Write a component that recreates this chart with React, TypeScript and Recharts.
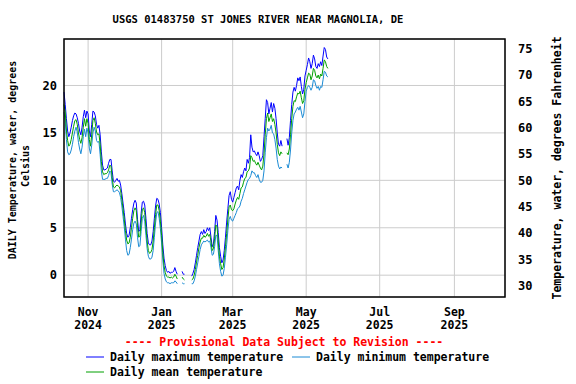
import { ComposedChart, Line, XAxis, YAxis, CartesianGrid } from 'recharts';

// Daily water temperature, deg C, from 2024-10-12 (day -20 relative to Nov 1 2024)
const START_DAY = -20;

// prettier-ignore
const maxT: (number | null)[] = [
  // Oct 12-31
  19.3, 18.0, 16.5, 15.2, 14.6, 15.0, 15.6, 16.3, 16.8, 17.1, 17.0, 16.6, 16.0, 15.2, 14.8, 15.6, 16.7, 17.4, 16.6, 17.3,
  // Nov
  17.0, 15.2, 14.6, 15.9, 17.3, 17.2, 16.8, 15.9, 15.5, 15.8, 14.8, 13.0, 11.6, 11.1, 11.1, 11.2, 11.3, 11.8, 12.2, 12.2,
  11.0, 9.9, 9.8, 10.0, 10.2, 9.9, 10.0, 9.5, 8.6, 7.6,
  // Dec
  6.6, 5.4, 4.4, 4.0, 4.2, 5.0, 6.0, 6.9, 7.6, 7.9, 7.6, 5.9, 4.6, 4.8, 6.5, 7.7, 7.8, 7.4, 6.0, 4.4,
  3.4, 3.2, 3.2, 3.6, 4.6, 6.0, 7.3, 8.1, 8.0, 7.5, 6.6,
  // Jan
  5.0, 3.2, 1.8, 1.0, 0.5, 0.3, 0.4, 0.2, 0.3, 0.3, 0.4, 0.8, 0.4, 0.1, null, null, null, 0.4, 0.1, 0.1,
  null, null, null, null, null, -0.1, 0.2, 0.6, 1.3, 2.1, 2.9,
  // Feb
  3.6, 4.3, 4.6, 4.3, 4.8, 4.4, 4.6, 5.0, 4.7, 5.0, 4.0, 3.0, 3.3, 4.6, 6.3, 5.8, 4.5, 2.9, 2.0, 1.3,
  1.6, 2.6, 4.0, 5.6, 7.0, 8.4, 8.8, 8.0,
  // Mar
  7.7, 8.2, 8.7, 9.2, 9.4, 9.0, 10.0, 10.6, 10.3, 10.9, 11.3, 11.0, 12.2, 11.8, 12.4, 14.8, 13.5, 13.0, 13.1, 12.8,
  12.6, 13.0, 12.6, 12.0, 12.2, 12.6, 14.6, 16.5, 18.5, 18.2, 17.0,
  // Apr
  17.6, 18.2, 17.2, 18.1, 17.6, 16.5, 15.0, 13.8, 13.6, 14.2, 13.6, null, null, null, 14.4, 13.7, 14.5, 16.3, 18.0, 19.3,
  19.8, 19.4, 20.0, 20.8, 20.5, 20.9, 19.9, 19.1, 19.6, 21.0,
  // May 1-19
  21.6, 22.2, 22.9, 22.5, 21.8, 22.3, 23.2, 22.8, 22.0, 21.8, 22.3, 22.0, 22.5, 22.1, 23.1, 24.0, 23.8, 23.0, 22.8,
];

// prettier-ignore
const meanT: (number | null)[] = [
  18.0, 17.2, 15.3, 14.2, 13.6, 13.8, 14.3, 15.0, 15.7, 16.3, 16.4, 15.9, 15.0, 14.3, 13.9, 14.5, 15.6, 16.5, 15.7, 16.5,
  16.0, 14.3, 13.6, 14.8, 16.3, 16.6, 16.0, 15.1, 14.8, 14.9, 13.8, 12.0, 10.9, 10.6, 10.7, 10.7, 10.8, 11.1, 11.6, 11.5,
  10.3, 9.3, 9.2, 9.4, 9.5, 9.4, 9.3, 8.9, 8.0, 7.0,
  5.9, 4.7, 3.7, 3.3, 3.4, 4.0, 5.0, 6.0, 6.8, 7.1, 6.8, 5.2, 4.0, 4.1, 5.6, 6.9, 7.1, 6.6, 5.1, 3.6,
  2.6, 2.3, 2.4, 2.7, 3.6, 5.0, 6.4, 7.4, 7.4, 6.8, 5.7,
  4.2, 2.4, 1.0, 0.3, -0.1, -0.2, -0.2, -0.3, -0.2, -0.3, -0.2, 0.1, -0.1, -0.4, null, null, null, -0.2, -0.4, -0.5,
  null, null, null, null, null, -0.5, -0.4, 0.0, 0.6, 1.4, 2.1,
  2.9, 3.5, 3.9, 3.9, 4.2, 4.0, 4.1, 4.4, 4.1, 4.3, 3.5, 2.6, 2.8, 3.9, 5.3, 5.1, 3.6, 2.0, 1.2, 0.6,
  0.8, 1.7, 3.0, 4.4, 5.9, 7.2, 7.4, 6.9,
  6.8, 7.0, 7.5, 7.9, 8.2, 8.0, 8.6, 9.2, 9.3, 9.8, 10.2, 10.3, 10.9, 11.0, 11.3, 12.6, 12.4, 12.0, 12.1, 11.8,
  11.6, 11.9, 11.6, 11.3, 11.1, 11.5, 12.8, 14.8, 16.5, 17.1, 16.2,
  16.6, 17.0, 16.2, 16.5, 15.9, 15.0, 13.8, 12.9, 12.6, 13.0, 12.8, null, null, null, 12.9, 12.7, 13.3, 14.8, 16.5, 17.8,
  18.4, 18.3, 18.8, 19.2, 19.1, 19.4, 18.7, 18.1, 18.4, 19.6,
  20.3, 20.8, 21.3, 21.2, 20.6, 21.0, 21.8, 21.6, 21.0, 20.8, 21.1, 20.7, 21.2, 21.0, 21.8, 22.7, 22.5, 22.0, 21.8,
];

// prettier-ignore
const minT: (number | null)[] = [
  17.2, 16.3, 14.3, 13.0, 12.7, 12.8, 13.2, 13.8, 14.6, 15.2, 15.6, 15.1, 14.0, 13.3, 12.8, 13.5, 14.6, 15.4, 14.6, 15.5,
  15.0, 13.4, 12.8, 13.7, 15.0, 15.6, 15.2, 14.2, 14.0, 14.1, 12.7, 11.0, 10.1, 10.1, 10.1, 10.2, 10.2, 10.5, 11.0, 10.8,
  9.6, 8.8, 8.8, 8.9, 9.0, 8.9, 8.7, 8.2, 7.3, 6.2,
  5.1, 3.8, 2.6, 2.1, 2.2, 2.9, 3.8, 4.8, 5.5, 5.7, 5.4, 4.0, 3.0, 3.1, 4.6, 6.0, 6.3, 5.7, 4.2, 2.8,
  2.0, 1.7, 1.7, 1.9, 2.6, 4.0, 5.5, 6.6, 6.7, 6.0, 4.9,
  3.4, 1.6, 0.2, -0.4, -0.7, -0.8, -0.8, -0.9, -0.8, -0.8, -0.8, -0.6, -0.7, -0.9, null, null, null, -0.8, -0.9, -0.9,
  null, null, null, null, null, -0.9, -0.9, -0.6, -0.1, 0.6, 1.3,
  2.0, 2.7, 3.2, 3.4, 3.6, 3.5, 3.6, 3.7, 3.5, 3.6, 2.9, 2.1, 2.2, 3.0, 4.2, 4.2, 2.6, 1.2, 0.4, -0.1,
  0.0, 0.7, 1.9, 3.2, 4.7, 5.9, 6.2, 5.8,
  5.7, 6.0, 6.3, 6.6, 7.0, 7.1, 7.3, 7.8, 8.1, 8.6, 9.0, 9.4, 9.8, 10.1, 10.2, 10.5, 11.0, 10.8, 10.8, 10.5,
  10.3, 10.6, 10.1, 9.8, 9.8, 10.0, 11.0, 12.9, 14.5, 15.5, 15.2,
  15.4, 15.8, 15.0, 14.9, 14.3, 13.4, 12.2, 11.5, 11.2, 11.4, 11.3, null, null, null, 11.7, 11.3, 11.9, 13.2, 15.0, 16.3,
  17.0, 17.2, 17.5, 17.7, 17.4, 17.8, 17.2, 16.6, 17.0, 18.3,
  19.4, 19.8, 20.0, 19.8, 19.5, 19.8, 20.6, 20.5, 20.0, 19.7, 19.9, 19.5, 19.9, 19.8, 20.6, 21.5, 21.4, 21.0, 20.9,
];

// x ticks: days from Nov 1 2024
const tickDays   = [0, 61, 120, 181, 242, 304];
const tickMonths = ['Nov', 'Jan', 'Mar', 'May', 'Jul', 'Sep'];
const tickYears  = ['2024', '2025', '2025', '2025', '2025', '2025'];
const celsiusTicks    = [0, 5, 10, 15, 20];
const fahrenheitTicks = [30, 35, 40, 45, 50, 55, 60, 65, 70, 75];

const C_DOMAIN: [number, number] = [-2.3, 24.9];
const F_DOMAIN: [number, number] = [C_DOMAIN[0] * 1.8 + 32, C_DOMAIN[1] * 1.8 + 32];

const COLORS = { max: '#0000FF', min: '#1A8AD4', mean: '#00A000' };
const FONT = '"DejaVu Sans Mono", monospace';

const data = maxT.map((v, i) => ({
  day:  START_DAY + i,
  max:  v,
  mean: meanT[i],
  min:  minT[i],
}));

function MonthTick({ x, y, payload }: any) {
  const i = tickDays.indexOf(payload.value);
  return (
    <text x={x} y={y} textAnchor="middle" fontFamily={FONT} fontWeight="bold" fontSize={11.5} fill="#000">
      <tspan x={x} dy={17}>{tickMonths[i]}</tspan>
      <tspan x={x} dy={13}>{tickYears[i]}</tspan>
    </text>
  );
}

export default function App() {
  const tickStyle = { fontSize: 12, fill: '#000', fontFamily: FONT, fontWeight: 'bold' as const };
  return (
    <div style={{ position: 'absolute', left: 0, top: 0, width: 576, height: 384, background: '#fff' }}>
      <ComposedChart
        width={576} height={384} data={data}
        margin={{ top: 39, right: 31, bottom: 57, left: 24 }}
      >
        <CartesianGrid stroke="#cccccc" strokeWidth={1} xAxisId="x" yAxisId="c" />
        <XAxis
          xAxisId="x" dataKey="day" type="number" domain={[-20, 346]}
          ticks={tickDays} interval={0} tick={<MonthTick />}
          tickLine={false} tickSize={0} axisLine={false} height={30}
        />
        <YAxis
          yAxisId="c" type="number" domain={C_DOMAIN} ticks={celsiusTicks} allowDataOverflow
          tick={tickStyle} tickLine={false} tickSize={0} tickMargin={7} axisLine={false} width={40}
        />
        <YAxis
          yAxisId="f" orientation="right" type="number" domain={F_DOMAIN} ticks={fahrenheitTicks} allowDataOverflow
          tick={tickStyle} tickLine={false} tickSize={0} tickMargin={13} axisLine={false} width={40}
        />
        <Line xAxisId="x" yAxisId="c" dataKey="max" type="linear" stroke={COLORS.max} strokeWidth={1} dot={false} isAnimationActive={false} />
        <Line xAxisId="x" yAxisId="c" dataKey="min" type="linear" stroke={COLORS.min} strokeWidth={1} dot={false} isAnimationActive={false} />
        <Line xAxisId="x" yAxisId="c" dataKey="mean" type="linear" stroke={COLORS.mean} strokeWidth={1} dot={false} isAnimationActive={false} />
      </ComposedChart>

      {/* frame, title, axis titles, legend */}
      <svg width={576} height={384} style={{ position: 'absolute', left: 0, top: 0, pointerEvents: 'none' }}>
        <rect x={64} y={39} width={441} height={258} fill="none" stroke="#000" strokeWidth={1.5} />
        <text x={258} y={23} textAnchor="middle" fontFamily={FONT} fontWeight="bold" fontSize={10.5}>
          USGS 01483750 ST JONES RIVER NEAR MAGNOLIA, DE
        </text>
        <text transform="translate(16,160) rotate(-90)" textAnchor="middle" fontFamily={FONT} fontWeight="bold" fontSize={10}>
          DAILY Temperature, water, degrees
        </text>
        <text transform="translate(29,166) rotate(-90)" textAnchor="middle" fontFamily={FONT} fontWeight="bold" fontSize={10}>
          Celsius
        </text>
        <text transform="translate(561,168) rotate(-90)" textAnchor="middle" fontFamily={FONT} fontWeight="bold" fontSize={11.5}>
          Temperature, water, degrees Fahrenheit
        </text>

        <text x={284} y={346} textAnchor="middle" fontFamily={FONT} fontWeight="bold" fontSize={11.5} fill="#FF0000">
          ---- Provisional Data Subject to Revision ----
        </text>
        <line x1={86} x2={104} y1={357} y2={357} stroke={COLORS.max} />
        <text x={110} y={361} fontFamily={FONT} fontWeight="bold" fontSize={11.5}>Daily maximum temperature</text>
        <line x1={292} x2={310} y1={357} y2={357} stroke={COLORS.min} />
        <text x={316} y={361} fontFamily={FONT} fontWeight="bold" fontSize={11.5}>Daily minimum temperature</text>
        <line x1={86} x2={104} y1={372} y2={372} stroke={COLORS.mean} />
        <text x={110} y={376} fontFamily={FONT} fontWeight="bold" fontSize={11.5}>Daily mean temperature</text>
      </svg>
    </div>
  );
}
